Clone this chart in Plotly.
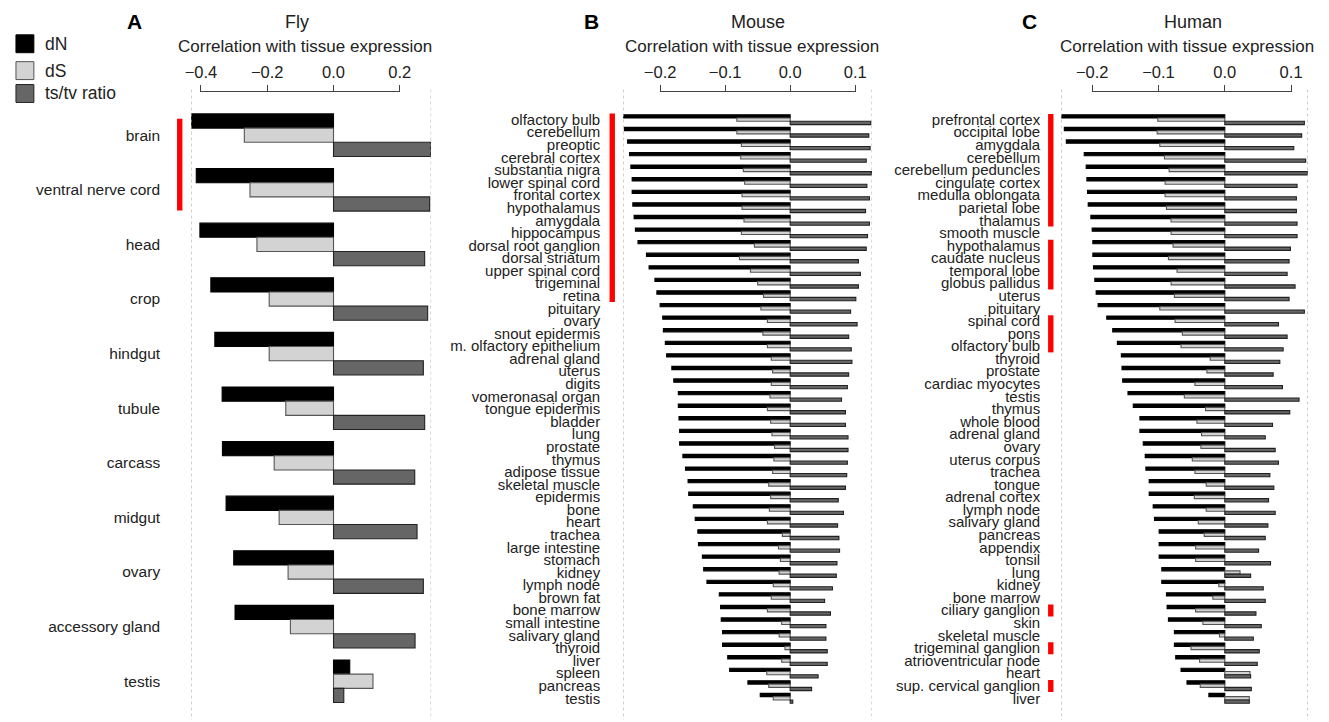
import plotly.graph_objects as go

W, H = 1329, 722
def PX(x): return x / W
def PY(y): return 1 - y / H

FONT = "Liberation Sans, Arial, sans-serif"

series_names = ["dN", "dS", "ts/tv ratio"]
series_fill = ["#000000", "#d3d3d3", "#666666"]
series_line = ["#000000", "#555555", "#222222"]

# ---------------- Fly ----------------
fly_tissues = ["brain", "ventral nerve cord", "head", "crop", "hindgut", "tubule",
               "carcass", "midgut", "ovary", "accessory gland", "testis"]
fly_dN = [-0.429, -0.414, -0.403, -0.370, -0.358, -0.336, -0.335, -0.324, -0.301, -0.297, 0.049]
fly_dS = [-0.269, -0.252, -0.231, -0.194, -0.194, -0.144, -0.179, -0.164, -0.137, -0.130, 0.119]
fly_tstv = [0.293, 0.290, 0.275, 0.284, 0.271, 0.275, 0.245, 0.252, 0.271, 0.246, 0.031]
fly_ticks = [-0.4, -0.2, 0.0, 0.2]
fly_ticklabels = ["\u22120.4", "\u22120.2", "0.0", "0.2"]
fly_red_groups = [(0, 1)]

# ---------------- Mouse ----------------
mouse_tissues = ["olfactory bulb", "cerebellum", "preoptic", "cerebral cortex", "substantia nigra",
                 "lower spinal cord", "frontal cortex", "hypothalamus", "amygdala", "hippocampus",
                 "dorsal root ganglion", "dorsal striatum", "upper spinal cord", "trigeminal", "retina",
                 "pituitary", "ovary", "snout epidermis", "m. olfactory epithelium", "adrenal gland",
                 "uterus", "digits", "vomeronasal organ", "tongue epidermis", "bladder", "lung",
                 "prostate", "thymus", "adipose tissue", "skeletal muscle", "epidermis", "bone",
                 "heart", "trachea", "large intestine", "stomach", "kidney", "lymph node", "brown fat",
                 "bone marrow", "small intestine", "salivary gland", "thyroid", "liver", "spleen",
                 "pancreas", "testis"]
mouse_dN = [-0.258, -0.255, -0.250, -0.247, -0.245, -0.243, -0.243, -0.242, -0.240, -0.238,
            -0.234, -0.221, -0.217, -0.208, -0.205, -0.200, -0.196, -0.195, -0.192, -0.190,
            -0.182, -0.179, -0.172, -0.172, -0.171, -0.170, -0.170, -0.165, -0.161, -0.157,
            -0.156, -0.149, -0.146, -0.142, -0.141, -0.135, -0.133, -0.128, -0.109, -0.107,
            -0.106, -0.104, -0.104, -0.096, -0.093, -0.065, -0.046]
mouse_dS = [-0.082, -0.082, -0.075, -0.076, -0.072, -0.070, -0.074, -0.074, -0.071, -0.075,
            -0.055, -0.078, -0.061, -0.050, -0.041, -0.045, -0.035, -0.042, -0.035, -0.029,
            -0.027, -0.029, -0.031, -0.035, -0.030, -0.028, -0.024, -0.025, -0.027, -0.033,
            -0.030, -0.032, -0.035, -0.012, -0.018, -0.015, -0.017, -0.026, -0.029, -0.035,
            -0.013, -0.017, -0.008, -0.013, -0.036, -0.033, -0.026]
mouse_tstv = [0.124, 0.121, 0.123, 0.117, 0.125, 0.118, 0.122, 0.116, 0.122, 0.119,
              0.117, 0.105, 0.108, 0.105, 0.101, 0.093, 0.103, 0.090, 0.094, 0.095,
              0.090, 0.088, 0.079, 0.085, 0.085, 0.089, 0.089, 0.088, 0.087, 0.085,
              0.074, 0.082, 0.073, 0.075, 0.076, 0.072, 0.071, 0.065, 0.053, 0.062,
              0.055, 0.055, 0.057, 0.057, 0.043, 0.033, 0.004]
mouse_ticks = [-0.2, -0.1, 0.0, 0.1]
mouse_ticklabels = ["\u22120.2", "\u22120.1", "0.0", "0.1"]
mouse_red_groups = [(0, 14)]

# ---------------- Human ----------------
human_tissues = ["prefrontal cortex", "occipital lobe", "amygdala", "cerebellum", "cerebellum peduncles",
                 "cingulate cortex", "medulla oblongata", "parietal lobe", "thalamus", "smooth muscle",
                 "hypothalamus", "caudate nucleus", "temporal lobe", "globus pallidus", "uterus",
                 "pituitary", "spinal cord", "pons", "olfactory bulb", "thyroid", "prostate",
                 "cardiac myocytes", "testis", "thymus", "whole blood", "adrenal gland", "ovary",
                 "uterus corpus", "trachea", "tongue", "adrenal cortex", "lymph node", "salivary gland",
                 "pancreas", "appendix", "tonsil", "lung", "kidney", "bone marrow", "ciliary ganglion",
                 "skin", "skeletal muscle", "trigeminal ganglion", "atrioventricular node", "heart",
                 "sup. cervical ganglion", "liver"]
human_dN = [-0.246, -0.242, -0.239, -0.212, -0.209, -0.208, -0.207, -0.206, -0.202, -0.200,
            -0.199, -0.199, -0.198, -0.196, -0.194, -0.191, -0.178, -0.169, -0.162, -0.156,
            -0.155, -0.154, -0.146, -0.138, -0.128, -0.128, -0.123, -0.120, -0.119, -0.114,
            -0.114, -0.108, -0.106, -0.099, -0.099, -0.099, -0.095, -0.095, -0.088, -0.087,
            -0.085, -0.076, -0.076, -0.074, -0.066, -0.057, -0.024]
human_dS = [-0.101, -0.102, -0.098, -0.091, -0.084, -0.090, -0.090, -0.088, -0.081, -0.081,
            -0.078, -0.085, -0.072, -0.081, -0.076, -0.098, -0.075, -0.064, -0.066, -0.022,
            -0.027, -0.045, -0.061, -0.029, -0.042, -0.035, -0.036, -0.049, -0.045, -0.028,
            -0.046, -0.028, -0.040, -0.031, -0.044, -0.044, 0.023, -0.009, -0.018, -0.044,
            -0.033, -0.008, -0.051, -0.038, 0.038, -0.037, 0.037]
human_tstv = [0.120, 0.116, 0.104, 0.122, 0.125, 0.109, 0.108, 0.108, 0.109, 0.109,
              0.099, 0.097, 0.094, 0.106, 0.097, 0.120, 0.081, 0.094, 0.088, 0.083,
              0.073, 0.087, 0.112, 0.098, 0.072, 0.061, 0.076, 0.081, 0.068, 0.074,
              0.066, 0.076, 0.065, 0.061, 0.051, 0.069, 0.039, 0.058, 0.061, 0.047,
              0.055, 0.043, 0.052, 0.049, 0.039, 0.040, 0.037]
human_ticks = [-0.2, -0.1, 0.0, 0.1]
human_ticklabels = ["\u22120.2", "\u22120.1", "0.0", "0.1"]
human_red_groups = [(0, 8), (10, 13), (16, 18), (39, 39), (42, 42), (45, 45)]

panels = [
    dict(name="Fly", letter="A", tissues=fly_tissues, vals=[fly_dN, fly_dS, fly_tstv],
         ticks=fly_ticks, ticklabels=fly_ticklabels, red=fly_red_groups,
         xdom=(186, 427), xrange=(-0.4294, 0.2943), ydom=(106.5, 710.5),
         red_x=174.5, red_pad=(0.3, 0.38), standoff=30, lab_size=15.5,
         title_x=300.5, name_x=292.5, letter_x=129.5),
    dict(name="Mouse", letter="B", tissues=mouse_tissues, vals=[mouse_dN, mouse_dS, mouse_tstv],
         ticks=mouse_ticks, ticklabels=mouse_ticklabels, red=mouse_red_groups,
         xdom=(620, 870), xrange=(-0.2568, 0.1260), ydom=(112.0, 706.5),
         red_x=609, red_pad=(0.55, 0.5), standoff=22, lab_size=15,
         title_x=749.5, name_x=755, letter_x=588),
    dict(name="Human", letter="C", tissues=human_tissues, vals=[human_dN, human_dS, human_tstv],
         ticks=human_ticks, ticklabels=human_ticklabels, red=human_red_groups,
         xdom=(1060, 1307.7), xrange=(-0.2467, 0.1252), ydom=(112.0, 706.5),
         red_x=1049.5, red_pad=(0.45, 0.5), standoff=20, lab_size=15,
         title_x=1186.5, name_x=1192, letter_x=1028),
]

fig = go.Figure()
shapes = []
annotations = []
layout_axes = {}

for i, p in enumerate(panels):
    sfx = "" if i == 0 else str(i + 1)
    xa, ya = "x" + sfx, "y" + sfx
    for k in range(3):
        fig.add_trace(go.Bar(
            y=p["tissues"], x=p["vals"][k], orientation="h",
            xaxis=xa, yaxis=ya, name=series_names[k], showlegend=False,
            marker=dict(color=series_fill[k], line=dict(color=series_line[k], width=1.1)),
        ))
    n = len(p["tissues"])
    layout_axes["xaxis" + sfx] = dict(
        domain=[PX(p["xdom"][0]), PX(p["xdom"][1])], range=list(p["xrange"]),
        side="top", anchor="free", position=PY(90),
        tickmode="array", tickvals=p["ticks"], ticktext=p["ticklabels"],
        ticks="outside", ticklen=7, tickwidth=1, tickcolor="#444",
        showline=False, showgrid=False, zeroline=False,
        tickfont=dict(family=FONT, size=16.5, color="#222"),
    )
    layout_axes["yaxis" + sfx] = dict(
        domain=[PY(p["ydom"][1]), PY(p["ydom"][0])], anchor=xa,
        type="category", categoryarray=p["tissues"], categoryorder="array",
        tickmode="array", tickvals=p["tissues"], ticktext=p["tissues"],
        range=[n - 0.5, -0.5], showgrid=False, zeroline=False, showline=False,
        ticks="", ticklabelstandoff=p["standoff"],
        tickfont=dict(family=FONT, size=p["lab_size"], color="#222"),
    )
    # R-style axis line spanning first to last tick
    shapes.append(dict(type="line", xref=xa, yref="paper",
                       x0=p["ticks"][0], x1=p["ticks"][-1], y0=PY(90), y1=PY(90),
                       line=dict(color="#444", width=1)))
    # dotted box edges
    for xv in p["xrange"]:
        shapes.append(dict(type="line", xref=xa, yref="paper",
                           x0=xv, x1=xv, y0=PY(88), y1=0,
                           line=dict(color="#aaaaaa", width=1, dash="dot")))
    # red brackets
    for (a, b) in p["red"]:
        shapes.append(dict(type="rect", xref="paper", yref=ya,
                           x0=PX(p["red_x"] - 2.7), x1=PX(p["red_x"] + 2.7),
                           y0=a - p["red_pad"][0], y1=b + p["red_pad"][1],
                           fillcolor="#ff0000", line=dict(width=0)))
    annotations.append(dict(x=PX(p["title_x"]), y=PY(45), xref="paper", yref="paper",
                            text="Correlation with tissue expression", showarrow=False,
                            xanchor="center", yanchor="middle",
                            font=dict(family=FONT, size=17, color="#222")))
    annotations.append(dict(x=PX(p["name_x"]), y=PY(20), xref="paper", yref="paper",
                            text=p["name"], showarrow=False, xanchor="center", yanchor="middle",
                            font=dict(family=FONT, size=18, color="#222")))
    annotations.append(dict(x=PX(p["letter_x"]), y=PY(20), xref="paper", yref="paper",
                            text="<b>" + p["letter"] + "</b>", showarrow=False,
                            xanchor="center", yanchor="middle",
                            font=dict(family=FONT, size=21, color="#000")))

# legend (drawn manually)
legend_y = [42, 69, 92]
for k in range(3):
    shapes.append(dict(type="rect", xref="paper", yref="paper",
                       x0=PX(10), x1=PX(28), y0=PY(legend_y[k] + 9), y1=PY(legend_y[k] - 9),
                       fillcolor=series_fill[k], line=dict(color=series_line[k], width=1)))
    annotations.append(dict(x=PX(37), y=PY(legend_y[k]), xref="paper", yref="paper",
                            text=series_names[k], showarrow=False, xanchor="left", yanchor="middle",
                            font=dict(family=FONT, size=17.5, color="#222")))

fig.update_layout(
    width=W, height=H, margin=dict(l=0, r=0, t=0, b=0),
    paper_bgcolor="white", plot_bgcolor="white",
    barmode="group", bargap=0.22, bargroupgap=0,
    shapes=shapes, annotations=annotations, showlegend=False,
    **layout_axes,
)

fig.write_html("out.html", config={"displayModeBar": False},
               post_script="document.body.style.margin='0px';")
